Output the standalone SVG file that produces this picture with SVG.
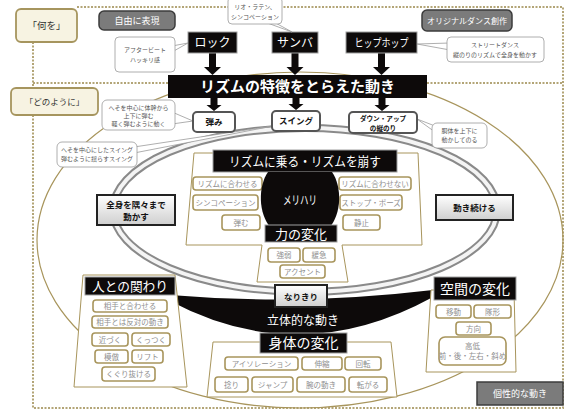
<svg xmlns="http://www.w3.org/2000/svg" width="568" height="411" viewBox="0 0 568 411">
<defs>
<linearGradient id="btn" x1="0" y1="0" x2="0" y2="1"><stop offset="0" stop-color="#ffffff"/><stop offset="1" stop-color="#cfcfcf"/></linearGradient>
</defs>
<style>
text{font-family:"Noto Sans CJK JP","Noto Sans",sans-serif;text-anchor:middle}
.dot{fill:none;stroke:#b3a577;stroke-width:2;stroke-dasharray:2 1.5}
.hdr{fill:#f7f3e2;stroke:#a6955e;stroke-width:1.8}
.gry{fill:#7b7b7b;stroke:#3c3c3c;stroke-width:1.5}
.blk{fill:#0d0a0a;stroke:#a0a0a0;stroke-width:1}
.wt{fill:#fff}
.item{fill:#fff;stroke:#a8955c;stroke-width:1.6}
.it{font-size:7.5px;fill:#8f8f8f}
.panel{fill:#fff;stroke:#a8955c;stroke-width:1}
.co{fill:#fff;stroke:#9a9a9a;stroke-width:0.8}
.ct{font-size:6px;fill:#555}
.sel{fill:#fff;stroke:#555;stroke-width:2}
.btn{fill:url(#btn);stroke:#222;stroke-width:2}
.bt{font-size:8.5px;font-weight:bold;fill:#111}
.arr{fill:#0d0a0a}
</style>

<g id="frame">
<path class="dot" d="M77,7 H563 V408 H33 V115 M33,42 V88 M33,83 H168 M427,83 H563"/>
</g>

<g id="outer-ellipse"><ellipse cx="300" cy="240" rx="263" ry="168" fill="none" stroke="#a8955c" stroke-width="1.2"/></g>

<g id="ring">
<ellipse cx="305" cy="210" rx="192" ry="82" fill="none" stroke="#8a8a8a" stroke-width="8"/>
<ellipse cx="305" cy="210" rx="192" ry="82" fill="none" stroke="#f4f4f4" stroke-width="4"/>
</g>

<g id="band">
<path d="M170,295 Q300,306 433,290 L433,297 Q300,370 170,301 Z" fill="#0d0a0a"/>
<text x="303" y="325" class="wt" font-size="12">立体的な動き</text>
</g>

<g id="connectors">
<path class="arr" d="M209,53 h7 v14 h5 l-8.5,8 l-8.5,-8 h5 z"/>
<path class="arr" d="M291.5,53 h7 v14 h5 l-8.5,8 l-8.5,-8 h5 z"/>
<path class="arr" d="M378,53 h7 v14 h5 l-8.5,8 l-8.5,-8 h5 z"/>
<path class="arr" d="M210.5,98 h7 v7 h4 l-7.5,6 l-7.5,-6 h4 z"/>
<path class="arr" d="M292.5,98 h7 v6 h4 l-7.5,6 l-7.5,-6 h4 z"/>
<path class="arr" d="M378.5,98 h7 v7 h4 l-7.5,6 l-7.5,-6 h4 z"/>
</g>

<g id="what"><rect class="hdr" x="16" y="9" width="61" height="33" rx="5"/><text x="46.5" y="29" font-size="9.5" fill="#333">「何を」</text></g>
<g id="how"><rect class="hdr" x="11" y="88" width="87" height="27" rx="5"/><text x="54.5" y="105" font-size="8.5" fill="#333">「どのように」</text></g>

<g id="free"><rect class="gry" x="99" y="11" width="76" height="19" rx="5"/><text x="137" y="24" class="wt" font-size="9">自由に表現</text></g>
<g id="original"><rect class="gry" x="422" y="10" width="90" height="21" rx="5"/><text x="467" y="24" class="wt" font-size="8">オリジナルダンス創作</text></g>

<g id="rock"><rect class="blk" x="188" y="32" width="49" height="21"/><text x="212.5" y="47" class="wt" font-size="12">ロック</text></g>
<g id="samba"><rect class="blk" x="272" y="32" width="46" height="21"/><text x="295" y="47" class="wt" font-size="12">サンバ</text></g>
<g id="hiphop"><rect class="blk" x="346" y="32" width="71" height="21"/><text x="381.5" y="47" class="wt" font-size="11" textLength="54" lengthAdjust="spacingAndGlyphs">ヒップホップ</text></g>

<g id="c-rock"><polygon class="co" points="172,46 188,43 172,52"/><rect class="co" x="115" y="37" width="60" height="35" rx="4"/><text class="ct" x="145" y="52">アフタービート</text><text class="ct" x="145" y="62">ハッキリ感</text></g>
<g id="c-samba"><polygon class="co" points="262,21 292,32 272,21"/><rect class="co" x="228" y="-3" width="54" height="27" rx="4"/><text class="ct" x="255" y="9">リオ・ラテン、</text><text class="ct" x="255" y="19">シンコペーション</text></g>
<g id="c-hiphop"><polygon class="co" points="450,43 417,44 450,50"/><rect class="co" x="447" y="37" width="97" height="25" rx="4"/><text class="ct" x="495" y="47">ストリートダンス</text><text class="ct" x="495" y="57">縦のりのリズムで全身を動かす</text></g>

<g id="bar"><rect x="168" y="75" width="259" height="23" fill="#0d0a0a"/><text x="297.5" y="92" class="wt" font-size="15" font-weight="bold">リズムの特徴をとらえた動き</text></g>

<g id="c-bounce"><polygon class="co" points="172,112 193,121 172,124"/><rect class="co" x="102" y="100" width="73" height="30" rx="5"/><text class="ct" x="138.5" y="110">へそを中心に体幹から</text><text class="ct" x="138.5" y="118">上下に弾む</text><text class="ct" x="138.5" y="126">軽く弾むように動く</text></g>
<g id="c-swing"><polygon class="co" points="134,147 273,126 134,153"/><rect class="co" x="57" y="142" width="80" height="25" rx="5"/><text class="ct" x="97" y="152">へそを中心にしたスイング</text><text class="ct" x="97" y="161">弾むように揺らすスイング</text></g>
<g id="c-downup"><polygon class="co" points="435,126 417,119 435,132"/><rect class="co" x="432" y="123" width="55" height="25" rx="5"/><text class="ct" x="459.5" y="133">胴体を上下に</text><text class="ct" x="459.5" y="142">動かしてのる</text></g>

<g id="bounce"><rect class="sel" x="193" y="112" width="42" height="20" rx="4"/><text class="bt" x="214" y="125">弾み</text></g>
<g id="swing"><rect class="sel" x="272" y="111" width="48" height="20" rx="4"/><text class="bt" x="296" y="124">スイング</text></g>
<g id="downup"><rect class="sel" x="349" y="112" width="68" height="21" rx="4"/><text x="383" y="121" font-size="6.6" font-weight="bold" fill="#111">ダウン・アップ</text><text x="383" y="130.5" font-size="6.6" font-weight="bold" fill="#111">の縦のり</text></g>

<g id="rhythm-panel">
<polygon class="panel" points="194,153 418,153 422,245 342,245 348,282 257,282 262,245 186,245"/>
<rect class="blk" x="213" y="150" width="184" height="22"/>
<text x="305" y="166" class="wt" font-size="13" textLength="152" lengthAdjust="spacingAndGlyphs">リズムに乗る・リズムを崩す</text>
<rect class="item" x="193" y="177" width="69" height="13" rx="3"/><text class="it" x="227.5" y="186.5">リズムに合わせる</text>
<rect class="item" x="193" y="195" width="65" height="15" rx="3"/><text class="it" x="225.5" y="205.5">シンコペーション</text>
<rect class="item" x="222" y="215" width="38" height="15" rx="3"/><text class="it" x="241" y="225.5">弾む</text>
<rect class="item" x="339" y="177" width="72" height="13" rx="3"/><text class="it" x="375" y="186.5">リズムに合わせない</text>
<rect class="item" x="340" y="195" width="62" height="15" rx="3"/><text class="it" x="371" y="205.5">ストップ・ポーズ</text>
<rect class="item" x="343" y="215" width="37" height="15" rx="3"/><text class="it" x="361.5" y="225.5">静止</text>
</g>

<g id="merihari">
<path d="M268,172 H332 C342,186 342,214 329,228 H271 C258,214 258,186 268,172 Z" fill="#0d0a0a"/>
<text x="300" y="205" class="wt" font-size="12" textLength="34" lengthAdjust="spacingAndGlyphs">メリハリ</text>
</g>

<g id="force">
<rect class="blk" x="265" y="225" width="72" height="17"/><text x="301" y="238.5" class="wt" font-size="13">力の変化</text>
<rect class="item" x="268" y="248" width="32" height="14" rx="3"/><text class="it" x="284" y="258">強弱</text>
<rect class="item" x="303" y="248" width="32" height="14" rx="3"/><text class="it" x="319" y="258">緩急</text>
<rect class="item" x="280" y="265" width="45" height="13" rx="3"/><text class="it" x="302.5" y="274.5">アクセント</text>
</g>

<g id="wholebody"><rect class="btn" x="97" y="195" width="78" height="30"/><text class="bt" x="136" y="207.5">全身を隅々まで</text><text class="bt" x="136" y="219.5">動かす</text></g>
<g id="keepmoving"><rect class="btn" x="436" y="195" width="77" height="25"/><text class="bt" x="474.5" y="211" font-size="9.5">動き続ける</text></g>
<g id="narikiri"><rect class="btn" x="275" y="285" width="52" height="22"/><text class="bt" x="301" y="299.5">なりきり</text></g>

<g id="people">
<polygon class="panel" points="83,275 175,275 187,387 74,387"/>
<rect class="blk" x="85" y="277" width="90" height="18"/><text x="130" y="291" class="wt" font-size="13" textLength="76" lengthAdjust="spacingAndGlyphs">人との関わり</text>
<rect class="item" x="93" y="300" width="74" height="12" rx="3"/><text class="it" x="130" y="309">相手と合わせる</text>
<rect class="item" x="92" y="316" width="76" height="12" rx="3"/><text class="it" x="130" y="325">相手とは反対の動き</text>
<rect class="item" x="92" y="333" width="36" height="13" rx="3"/><text class="it" x="110" y="342.5">近づく</text>
<rect class="item" x="132" y="333" width="38" height="13" rx="3"/><text class="it" x="151" y="342.5">くっつく</text>
<rect class="item" x="95" y="350" width="33" height="13" rx="3"/><text class="it" x="111.5" y="359.5">模倣</text>
<rect class="item" x="132" y="350" width="31" height="13" rx="3"/><text class="it" x="147.5" y="359.5">リフト</text>
<rect class="item" x="102" y="367" width="53" height="14" rx="3"/><text class="it" x="128.5" y="377">くぐり抜ける</text>
</g>

<g id="body">
<polygon class="panel" points="213,342 391,342 397,397 207,397"/>
<rect class="blk" x="260" y="333" width="87" height="20"/><text x="303.5" y="348" class="wt" font-size="14">身体の変化</text>
<rect class="item" x="225" y="357" width="73" height="13" rx="3"/><text class="it" x="261.5" y="366.5">アイソレーション</text>
<rect class="item" x="302" y="357" width="40" height="13" rx="3"/><text class="it" x="322" y="366.5">伸縮</text>
<rect class="item" x="345" y="357" width="36" height="13" rx="3"/><text class="it" x="363" y="366.5">回転</text>
<rect class="item" x="215" y="377" width="33" height="15" rx="3"/><text class="it" x="231.5" y="387.5">捻り</text>
<rect class="item" x="252" y="377" width="41" height="15" rx="3"/><text class="it" x="272.5" y="387.5">ジャンプ</text>
<rect class="item" x="297" y="377" width="48" height="15" rx="3"/><text class="it" x="321" y="387.5">腕の動き</text>
<rect class="item" x="349" y="377" width="38" height="15" rx="3"/><text class="it" x="368" y="387.5">転がる</text>
</g>

<g id="space">
<polygon class="panel" points="431,290 514,290 516,372 426,372"/>
<rect class="blk" x="434" y="277" width="82" height="23"/><text x="475" y="294" class="wt" font-size="14">空間の変化</text>
<rect class="item" x="436" y="305" width="35" height="13" rx="3"/><text class="it" x="453.5" y="314.5">移動</text>
<rect class="item" x="474" y="305" width="37" height="13" rx="3"/><text class="it" x="492.5" y="314.5">隊形</text>
<rect class="item" x="456" y="322" width="35" height="13" rx="3"/><text class="it" x="473.5" y="331.5">方向</text>
<rect class="item" x="439" y="337" width="67" height="28" rx="6"/><text class="it" x="472.5" y="349">高低</text><text class="it" x="472.5" y="359">前・後・左右・斜め</text>
</g>

<g id="unique"><rect x="477" y="382" width="86" height="23" fill="#7b7b7b" stroke="#3c3c3c" stroke-width="1.5"/><text x="520" y="397" class="wt" font-size="9">個性的な動き</text></g>
</svg>
